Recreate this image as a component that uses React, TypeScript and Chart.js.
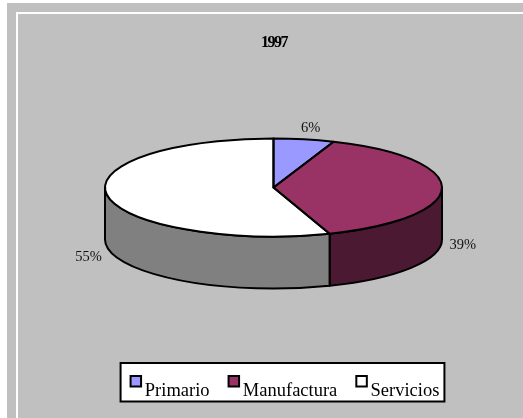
import React, { useEffect, useRef } from "react";
import { Chart, registerables } from "chart.js";

Chart.register(...registerables);

const categories = ["Primario", "Manufactura", "Servicios"];
const shares = [5.8, 38.8, 55.4];
const topColors = ["#9999FF", "#993366", "#FFFFFF"];
const wallColors = ["#4C4C80", "#4C1933", "#808080"];
const chartTitle = "1997";

const SERIF = "'Liberation Serif', 'Times New Roman', serif";
const GRAY = "#C0C0C0";
const CX = 273.5;
const CY = 187.5;
const RX = 168.5;
const RY = 49;
const DEPTH = 52;
const LW = 2;
const LABEL_NUDGE_X = [3, 0.5, 1];
const LABEL_NUDGE_Y = [0, -1, 2];

const squash = (ctx: CanvasRenderingContext2D, arc: any) => {
  ctx.translate(CX, CY);
  ctx.scale(1, RY / RX);
  ctx.translate(-arc.x, -arc.y);
};

const pie3d = {
  id: "pie3d",
  beforeDraw(chart: any) {
    const { ctx, width, height } = chart;
    ctx.save();
    ctx.fillStyle = "#FFFFFF";
    ctx.fillRect(0, 0, width, height);
    ctx.fillStyle = GRAY;
    ctx.fillRect(7, 3, width - 7, height - 3);
    ctx.fillStyle = "#FFFFFF";
    ctx.fillRect(16, 12, width - 16, 2);
    ctx.fillRect(16, 12, 2, height - 12);

    // legend frame behind the library's legend text
    const boxes = chart.legend.legendHitBoxes;
    const first = boxes[0];
    const last = boxes[boxes.length - 1];
    const x0 = first.left - 8;
    const x1 = last.left + last.width + 5;
    const y0 = first.top - 18.5;
    const y1 = first.top + first.height + 1.5;
    ctx.fillStyle = "#FFFFFF";
    ctx.strokeStyle = "#000000";
    ctx.lineWidth = LW;
    ctx.fillRect(x0, y0, x1 - x0, y1 - y0);
    ctx.strokeRect(x0, y0, x1 - x0, y1 - y0);
    boxes.forEach((b: any, i: number) => {
      ctx.fillStyle = topColors[i];
      ctx.fillRect(b.left + 2, b.top - 5.5, 10.5, 10.5);
      ctx.strokeRect(b.left + 2, b.top - 5.5, 10.5, 10.5);
    });
    ctx.restore();

    const tb = chart.titleBlock;
    if (!tb.__tight) {
      tb.__tight = true;
      const orig = tb.draw;
      tb.draw = function (...args: any[]) {
        ctx.save();
        ctx.translate(-10, 0);
        (ctx as any).letterSpacing = "-1.5px";
        orig.apply(tb, args);
        ctx.restore();
      };
    }
  },
  beforeDatasetsDraw(chart: any) {
    const { ctx } = chart;
    const arcs = chart.getDatasetMeta(0).data;
    ctx.save();
    ctx.lineWidth = LW;
    ctx.strokeStyle = "#000000";
    ctx.lineJoin = "round";
    arcs.forEach((arc: any, i: number) => {
      const a = Math.max(arc.startAngle, 0);
      const b = Math.min(arc.endAngle, Math.PI);
      if (b <= a) return;
      ctx.beginPath();
      ctx.ellipse(CX, CY, RX, RY, 0, a, b, false);
      ctx.ellipse(CX, CY + DEPTH, RX, RY, 0, b, a, true);
      ctx.closePath();
      ctx.fillStyle = wallColors[i];
      ctx.fill();
      ctx.stroke();
    });
    ctx.restore();
    ctx.save();
    if (arcs[0]) squash(ctx, arcs[0]);
  },
  afterDatasetsDraw(chart: any) {
    const { ctx } = chart;
    ctx.restore();
    const arcs = chart.getDatasetMeta(0).data;
    ctx.save();
    ctx.lineWidth = LW;
    ctx.strokeStyle = "#000000";
    ctx.lineJoin = "round";
    arcs.forEach((arc: any) => {
      ctx.save();
      squash(ctx, arc);
      ctx.beginPath();
      ctx.moveTo(arc.x, arc.y);
      ctx.arc(arc.x, arc.y, arc.outerRadius, arc.startAngle, arc.endAngle);
      ctx.closePath();
      ctx.restore();
      ctx.stroke();
    });

    ctx.fillStyle = "#111111";
    ctx.font = `14.5px ${SERIF}`;
    ctx.textAlign = "center";
    ctx.textBaseline = "middle";
    arcs.forEach((arc: any, i: number) => {
      const mid = (arc.startAngle + arc.endAngle) / 2;
      const front = Math.sin(mid) > -0.1 ? DEPTH + 5 : 0;
      const x = CX + 1.12 * RX * Math.cos(mid) + LABEL_NUDGE_X[i];
      const y = CY + front + 1.25 * RY * Math.sin(mid) + 0.8 + LABEL_NUDGE_Y[i];
      ctx.fillText(`${Math.round(shares[i])}%`, x, y);
    });
    ctx.restore();
  },
};

export default function App() {
  const ref = useRef<HTMLCanvasElement | null>(null);
  useEffect(() => {
    const chart = new Chart(ref.current as HTMLCanvasElement, {
      type: "pie",
      data: {
        labels: categories,
        datasets: [
          {
            data: shares,
            backgroundColor: topColors,
            borderWidth: 0,
            radius: RX,
          } as any,
        ],
      },
      options: {
        responsive: false,
        animation: false,
        layout: { padding: { left: 45, bottom: 8 } },
        plugins: {
          tooltip: { enabled: false },
          title: {
            display: true,
            text: chartTitle,
            color: "#000000",
            font: { family: SERIF, size: 16, weight: "bold" },
            padding: { top: 33, bottom: 4 },
          },
          legend: {
            display: true,
            position: "bottom",
            labels: {
              boxWidth: 7,
              boxHeight: 0,
              padding: 17,
              color: "#111111",
              font: { family: SERIF, size: 18.5 },
              generateLabels: () =>
                categories.map((text, index) => ({
                  text,
                  index,
                  fillStyle: "rgba(0,0,0,0)",
                  strokeStyle: "rgba(0,0,0,0)",
                  lineWidth: 0,
                  hidden: false,
                })),
            },
          },
        },
      },
      plugins: [pie3d],
    } as any);
    return () => chart.destroy();
  }, []);
  return (
    <div style={{ position: "absolute", left: 0, top: 0, width: 523, height: 418, background: "#fff" }}>
      <canvas ref={ref} width={523} height={418} style={{ display: "block" }} />
    </div>
  );
}
